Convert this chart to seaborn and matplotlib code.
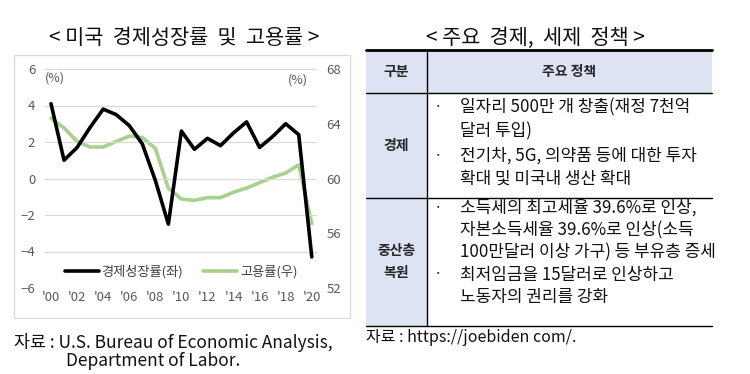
import matplotlib
matplotlib.use('Agg')
import matplotlib.pyplot as plt
import seaborn as sns
from matplotlib.lines import Line2D
from matplotlib.patches import Rectangle

sns.set_style("white")
plt.rcParams['font.family'] = ['Noto Sans CJK KR', 'DejaVu Sans']

# 데이터
years = list(range(2000, 2021))
growth = [4.1, 1.0, 1.7, 2.8, 3.8, 3.5, 2.9, 1.9, -0.1, -2.5, 2.6, 1.6, 2.2, 1.8, 2.5, 3.1, 1.7, 2.3, 3.0, 2.4, -4.3]
employment = [64.4, 63.7, 62.7, 62.3, 62.3, 62.7, 63.1, 63.0, 62.2, 59.3, 58.5, 58.4, 58.6, 58.6, 59.0, 59.3, 59.7, 60.1, 60.4, 61.0, 56.7]
xtick_years = list(range(2000, 2021, 2))
xtick_labels = ["'%02d" % (y % 100) for y in xtick_years]
left_ticks = [-6, -4, -2, 0, 2, 4, 6]
right_ticks = [52, 56, 60, 64, 68]

header = ["구분", "주요 정책"]
rows = [
    ("경제", [("·", "일자리 500만 개 창출(재정 7천억"), ("", "달러 투입)"),
              ("·", "전기차, 5G, 의약품 등에 대한 투자"), ("", "확대 및 미국내 생산 확대")]),
    ("중산층\n복원", [("·", "소득세의 최고세율 39.6%로 인상,"), ("", "자본소득세율 39.6%로 인상(소득"),
                   ("", "100만달러 이상 가구) 등 부유층 증세"), ("·", "최저임금을 15달러로 인상하고"),
                   ("", "노동자의 권리를 강화")]),
]

W, H = 750, 374
fig = plt.figure(figsize=(7.5, 3.74), dpi=100)

# 배경/표용 축 (픽셀 좌표)
bg = fig.add_axes([0, 0, 1, 1])
bg.set_xlim(0, W)
bg.set_ylim(H, 0)
bg.axis('off')

# 왼쪽 차트
def px_rect(x0, y0, x1, y1):
    return [x0 / W, 1 - y1 / H, (x1 - x0) / W, (y1 - y0) / H]

ax = fig.add_axes(px_rect(45, 69, 317, 288))
sns.lineplot(x=years, y=growth, ax=ax, color='black', lw=2.6)
ax.set_xlim(1999.54, 2020.4)
ax.set_ylim(-6, 6)
ax.set_yticks(left_ticks)
ax.set_xticks(xtick_years)
ax.set_xticklabels(xtick_labels)
ax.grid(axis='y', color='#d9d9d9', lw=0.8)
ax.set_axisbelow(True)

ax2 = ax.twinx()
sns.lineplot(x=years, y=employment, ax=ax2, color='#a9d18e', lw=2.6)
ax2.set_ylim(52, 68)
ax2.set_yticks(right_ticks)
ax.set_zorder(ax2.get_zorder() + 1)
ax.patch.set_visible(False)

for a in (ax, ax2):
    for s in a.spines.values():
        s.set_visible(False)
    a.tick_params(length=0, labelsize=9.5, labelcolor='#595959', pad=7)
ax.tick_params(axis='x', pad=2)

ax.text(0.0, 0.96, "(%)", transform=ax.transAxes, fontsize=9, color='#595959', va='center')
ax.text(0.965, 0.95, "(%)", transform=ax.transAxes, fontsize=9, color='#595959', va='center', ha='right')

handles = [Line2D([], [], color='black', lw=2.6), Line2D([], [], color='#a9d18e', lw=2.6)]
ax.legend(handles, ["경제성장률(좌)", "고용률(우)"], loc='center', bbox_to_anchor=(0.5, 0.073),
          ncol=2, frameon=False, fontsize=9.5, handlelength=2.6, handletextpad=0.2, columnspacing=1.5,
          labelcolor='#404040')

bg.add_patch(Rectangle((14, 55), 336, 263, fill=False, ec='#d9d9d9', lw=0.9))
bg.text(184, 38, "< 미국  경제성장률  및  고용률 >", ha='center', va='center', fontsize=15, color='#111111')
bg.text(14, 342, "자료 : U.S. Bureau of Economic Analysis,", ha='left', va='center', fontsize=12.5, color='#111111')
bg.text(66, 361, "Department of Labor.", ha='left', va='center', fontsize=12.5, color='#111111')

# 오른쪽 표
tx0, tx1, tcol = 366, 712, 427
ty_top, ty_head, ty_mid, ty_bot = 50, 93, 198, 326
fill = '#dde3f3'
bg.add_patch(Rectangle((tx0, ty_top), tx1 - tx0, ty_head - ty_top, color=fill, lw=0))
bg.add_patch(Rectangle((tx0, ty_head), tcol - tx0, ty_bot - ty_head, color=fill, lw=0))
bg.plot([tx0, tx1], [ty_top, ty_top], color='black', lw=2)
for yy in (ty_head, ty_mid, ty_bot):
    bg.plot([tx0, tx1], [yy, yy], color='black', lw=1)
bg.plot([tcol, tcol], [ty_top, ty_bot], color='black', lw=1)

bg.text(535, 38, "< 주요  경제,  세제  정책 >", ha='center', va='center', fontsize=15, color='#111111')
bg.text((tx0 + tcol) / 2, 72, header[0], ha='center', va='center', fontsize=10, weight='bold')
bg.text((tcol + tx1) / 2, 72, header[1], ha='center', va='center', fontsize=10, weight='bold')

clip = Rectangle((tx0, ty_top), tx1 - tx0, ty_bot - ty_top, transform=bg.transData)
line_ys = [[107, 131, 156, 179], [208, 230, 252, 275, 297]]
for (name, lines), ys, (r0, r1) in zip(rows, line_ys, [(ty_head, ty_mid), (ty_mid, ty_bot)]):
    bg.text((tx0 + tcol) / 2, (r0 + r1) / 2, name, ha='center', va='center', fontsize=10,
            weight='bold', linespacing=1.7)
    for (bullet, txt), yy in zip(lines, ys):
        if bullet:
            bg.text(438, yy, bullet, ha='center', va='center', fontsize=11)
        t = bg.text(460, yy, txt, ha='left', va='center', fontsize=12.2, color='#111111')
        t.set_clip_path(clip)

bg.text(366, 338, "자료 : https://joebiden com/.", ha='left', va='center', fontsize=11.5, color='#111111')

fig.savefig('out.png', dpi=100)
